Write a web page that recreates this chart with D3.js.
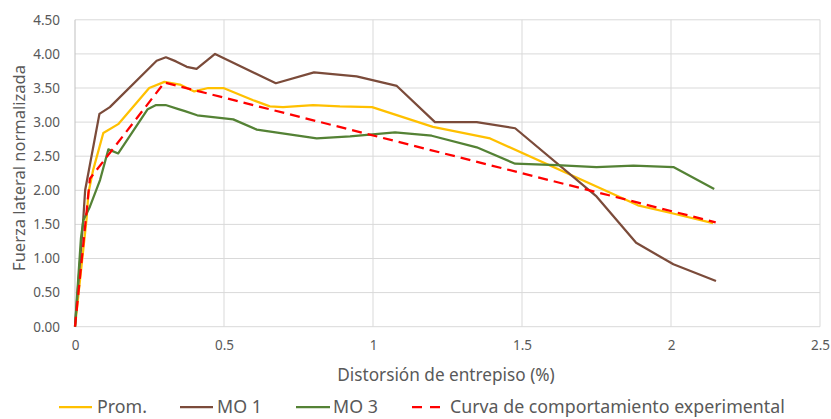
<!DOCTYPE html>
<html><head><meta charset="utf-8">
<script src="https://cdn.jsdelivr.net/npm/d3@7/dist/d3.min.js"></script>
<style>
body{margin:0;background:#fff;}
svg text{font-family:"Noto Sans","Open Sans",sans-serif;fill:#595959;}
</style></head>
<body><svg id="c" width="831" height="419"></svg>
<script>
const seriesNames = ["Prom.", "MO 1", "MO 3", "Curva de comportamiento experimental"];
const seriesColors = ["#FFC000", "#7B4B3A", "#548235", "#FF0000"];
const promX = [0,0.039,0.045,0.061,0.095,0.145,0.249,0.30,0.352,0.40,0.447,0.498,0.598,0.654,0.698,0.799,0.889,0.997,1.201,1.393,1.889,2.007,2.141];
const promY = [0,1.59,1.96,2.30,2.84,2.97,3.50,3.59,3.55,3.45,3.50,3.50,3.32,3.23,3.22,3.25,3.23,3.22,2.93,2.76,1.78,1.66,1.52];
const mo1X = [0,0.028,0.034,0.082,0.117,0.274,0.305,0.339,0.375,0.408,0.47,0.674,0.802,0.945,1.08,1.208,1.348,1.477,1.75,1.883,2.008,2.151];
const mo1Y = [0,1.59,2.0,3.12,3.22,3.90,3.95,3.89,3.81,3.78,4.0,3.57,3.73,3.67,3.53,3.0,3.0,2.91,1.91,1.23,0.915,0.67];
const mo3X = [0,0.02,0.028,0.05,0.084,0.112,0.145,0.244,0.272,0.304,0.347,0.369,0.41,0.531,0.61,0.811,0.923,1.074,1.197,1.348,1.477,1.616,1.75,1.874,2.008,2.145];
const mo3Y = [0,1.30,1.56,1.76,2.15,2.60,2.54,3.19,3.25,3.25,3.19,3.16,3.10,3.04,2.89,2.76,2.79,2.85,2.80,2.63,2.39,2.37,2.34,2.36,2.34,2.02];
const expX = [0,0.05,0.30,2.15];
const expY = [0,2.17,3.58,1.53];
const xTicks = [0,0.5,1,1.5,2,2.5];
const xTickLabels = ["0","0.5","1","1.5","2","2.5"];
const yTicks = [0,0.5,1,1.5,2,2.5,3,3.5,4,4.5];
const xTitle = "Distorsión de entrepiso (%)";
const yTitle = "Fuerza lateral normalizada";

const svg = d3.select("#c");
const x = d3.scaleLinear().domain([0,2.5]).range([75,820]);
const y = d3.scaleLinear().domain([0,4.5]).range([326.7,19.8]);

svg.append("g").selectAll("line").data(yTicks).join("line")
  .attr("x1",x(0)).attr("x2",x(2.5)).attr("y1",d=>y(d)).attr("y2",d=>y(d))
  .attr("stroke","#d9d9d9").attr("stroke-width",1);
svg.append("g").selectAll("line").data(xTicks.slice(1)).join("line")
  .attr("x1",d=>x(d)).attr("x2",d=>x(d)).attr("y1",y(0)).attr("y2",y(4.5))
  .attr("stroke","#d9d9d9").attr("stroke-width",1);
svg.append("line").attr("x1",x(0)).attr("x2",x(0)).attr("y1",y(0)).attr("y2",y(4.5))
  .attr("stroke","#bfbfbf").attr("stroke-width",1);

const xAxis = d3.axisBottom(x).tickValues(xTicks).tickFormat((d,i)=>xTickLabels[i]).tickSize(0).tickPadding(14);
const gx = svg.append("g").attr("transform",`translate(0,${y(0)})`).call(xAxis);
gx.select(".domain").remove();
gx.selectAll("text").attr("font-size",13.5).style("fill","#595959").attr("font-family","Noto Sans");
const yAxis = d3.axisLeft(y).tickValues(yTicks).tickFormat(d3.format(".2f")).tickSize(0).tickPadding(15);
const gy = svg.append("g").attr("transform",`translate(${x(0)},0)`).call(yAxis);
gy.select(".domain").remove();
gy.selectAll("text").attr("font-size",13.5).style("fill","#595959").attr("font-family","Noto Sans");

svg.append("text").attr("x",446).attr("y",381).attr("text-anchor","middle").attr("font-size",17.2).text(xTitle);
svg.append("text").attr("transform","translate(25,168) rotate(-90)").attr("text-anchor","middle").attr("font-size",16.5).text(yTitle);

const line = d3.line().x(d=>x(d[0])).y(d=>y(d[1]));
const allSeries = [
  d3.zip(promX,promY), d3.zip(mo1X,mo1Y), d3.zip(mo3X,mo3Y), d3.zip(expX,expY)
];
allSeries.forEach((s,i)=>{
  svg.append("path").datum(s).attr("d",line).attr("fill","none")
    .attr("stroke",seriesColors[i]).attr("stroke-width",2.25)
    .attr("stroke-linejoin","round")
    .attr("stroke-dasharray", i===3 ? "10,6" : null);
});

const legX = [59,180,296,412];
const legW = [33,33,34,28];
const legT = [97,217,333,450];
const leg = svg.append("g");
seriesNames.forEach((n,i)=>{
  leg.append("line").attr("x1",legX[i]).attr("x2",legX[i]+legW[i]).attr("y1",407).attr("y2",407)
    .attr("stroke",seriesColors[i]).attr("stroke-width",2.25).attr("stroke-dasharray", i===3?"10,8":null);
  leg.append("text").attr("x",legT[i]).attr("y",413).attr("font-size",17.8).text(n);
});
</script></body></html>
